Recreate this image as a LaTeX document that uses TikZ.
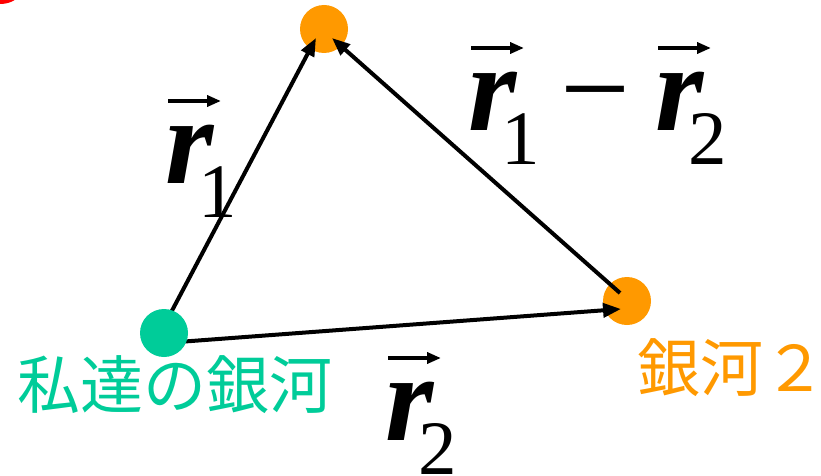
\documentclass[tikz,border=0pt]{standalone}
\usepackage{fontspec}
\usetikzlibrary{arrows.meta}
\newfontfamily\tnr{Liberation Serif}
\newfontfamily\cjk{Noto Sans CJK JP}
\definecolor{gal}{HTML}{00CC99}
\definecolor{org}{HTML}{FF9900}
\newcommand\vr[1]{{\bfseries\itshape r}\kern-15pt\raisebox{-34pt}{\fontsize{77}{77}\selectfont #1}}
\tikzset{
  dot/.style={circle,inner sep=0pt,minimum size=48pt},
  vec/.style={line width=4pt,-{Triangle[length=18pt,width=14pt]}},
  varr/.style={line width=3.5pt,-{Triangle[length=14pt,width=11pt]}},
  lab/.style={inner sep=0pt,anchor=base west,font=\tnr\fontsize{124}{124}\selectfont},
  jp/.style={inner sep=0pt,anchor=base west,font=\cjk\fontsize{63}{63}\selectfont},
}
\begin{document}
\begin{tikzpicture}[x=1pt,y=-1pt]
\useasboundingbox (0,0) rectangle (821,476);
\fill[red] (0,-26) circle (30);
\node[dot,fill=org] (o1) at (324,29) {};
\node[dot,fill=org] (o2) at (627,301) {};
\coordinate (s1) at (166,322);
\coordinate (t1) at (316,38);
\coordinate (s2) at (178,342);
\coordinate (t2) at (621,309);
\coordinate (s3) at (620,293);
\coordinate (t3) at (332,38);
\draw[vec] (s1) -- (t1);
\draw[vec] (s2) -- (t2);
\draw[vec] (s3) -- (t3);
\node[dot,fill=gal] (g) at (164,333) {};
\node[lab] (l1) at (165,183) {\vr{1}};
\node[lab] (l2) at (385,440) {\vr{2}};
\node[lab] (l3a) at (468,130) {\vr{1}};
\node[lab,anchor=base] (l3m) at (595,130) {−};
\node[lab] (l3b) at (655,130) {\vr{2}};
\foreach \l in {l1,l2,l3a,l3b}
  \draw[varr] ([xshift=3pt,yshift=82pt]\l.base west) -- ++(53pt,0pt);
\node[jp,text=gal] (n1) at (17,408) {私達の銀河};
\node[jp,text=org] (n2) at (637,391) {銀河２};
\end{tikzpicture}
\end{document}
